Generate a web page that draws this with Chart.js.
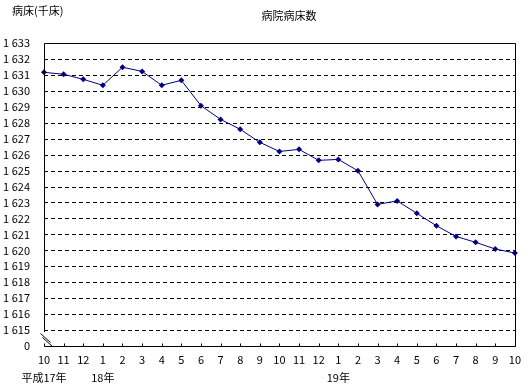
<!DOCTYPE html>
<html>
<head>
<meta charset="utf-8">
<script src="https://cdn.jsdelivr.net/npm/chart.js@4"></script>
<style>
  html, body { margin: 0; padding: 0; background: #fff; }
  #wrap { width: 528px; height: 387px; }
</style>
</head>
<body>
<div id="wrap"><canvas id="chart" width="528" height="387"></canvas></div>
<script>
// months from 平成17年10月 to 平成19年10月
var months = ['10', '11', '12', '1', '2', '3', '4', '5', '6', '7', '8', '9',
              '10', '11', '12', '1', '2', '3', '4', '5', '6', '7', '8', '9', '10'];
var yearLabels = { 0: '平成17年', 3: '18年', 15: '19年' };
var beds = [1631.16, 1631.04, 1630.72, 1630.35, 1631.48, 1631.22, 1630.35, 1630.66,
            1629.07, 1628.21, 1627.59, 1626.77, 1626.2, 1626.33, 1625.64, 1625.7,
            1624.99, 1622.88, 1623.1, 1622.32, 1621.54, 1620.87, 1620.5, 1620.08, 1619.83];
var yMin = 1614;   // shown as "0" (axis break)
var yMax = 1633;

var FONT = "'Noto Sans CJK JP', 'DejaVu Sans', sans-serif";

// dashed grid, frame, axis break, inner ticks and texts
var decorations = {
    id: 'decorations',
    beforeDatasetsDraw: function(chart) {
        var c = chart.ctx;
        var a = chart.chartArea;
        var y = chart.scales.y;
        c.save();
        c.strokeStyle = '#000';
        c.lineWidth = 1;
        c.setLineDash([4, 3]);
        c.beginPath();
        y.ticks.forEach(function(t) {
            if (t.value === yMin || t.value === yMax) return;
            var py = Math.round(y.getPixelForValue(t.value)) + 0.5;
            c.moveTo(a.left, py);
            c.lineTo(a.right, py);
        });
        c.stroke();
        c.restore();
    },
    afterDraw: function(chart) {
        var c = chart.ctx;
        var a = chart.chartArea;
        var y = chart.scales.y;
        var x = chart.scales.x;
        c.save();
        c.strokeStyle = '#000';
        c.lineWidth = 1;
        var breakTop = Math.round(y.getPixelForValue(1615)) + 2;
        var L = Math.round(a.left) + 0.5, R = Math.round(a.right) + 0.5;
        var T = Math.round(a.top) + 0.5, B = Math.round(a.bottom) + 0.5;
        c.beginPath();
        c.moveTo(L, breakTop);
        c.lineTo(L, T);
        c.lineTo(R, T);
        c.lineTo(R, B);
        c.lineTo(L, B);
        c.stroke();
        // break marks
        c.beginPath();
        c.moveTo(L - 4, B - 13);
        c.lineTo(L + 6, B - 4);
        c.moveTo(L - 2, B - 9);
        c.lineTo(L + 8, B);
        c.stroke();
        // small ticks inside the bottom axis
        c.beginPath();
        for (var i = 0; i < months.length; i++) {
            var px = Math.round(x.getPixelForTick(i)) + 0.5;
            c.moveTo(px, B);
            c.lineTo(px, B - 3);
        }
        c.stroke();
        // texts
        c.fillStyle = '#000';
        c.font = '11px ' + FONT;
        c.textBaseline = 'middle';
        c.textAlign = 'left';
        c.fillText('病床(千床)', 12, 11);
        c.textAlign = 'center';
        c.fillText('病院病床数', 289, 16);
        Object.keys(yearLabels).forEach(function(k) {
            c.fillText(yearLabels[k], x.getPixelForTick(+k), a.bottom + 32);
        });
        c.restore();
    }
};

new Chart(document.getElementById('chart'), {
    type: 'line',
    data: {
        labels: months,
        datasets: [{
            data: beds,
            borderColor: '#000080',
            backgroundColor: '#000080',
            borderWidth: 1,
            pointStyle: 'rectRot',
            pointRadius: 3,
            pointBorderWidth: 0,
            tension: 0,
            fill: false
        }]
    },
    plugins: [decorations],
    options: {
        responsive: false,
        animation: false,
        layout: { padding: { top: 43, right: 10, left: 0, bottom: 0 } },
        plugins: {
            legend: { display: false },
            title: { display: false },
            tooltip: { enabled: false }
        },
        scales: {
            x: {
                offset: false,
                border: { display: false },
                grid: { display: false, drawTicks: false, tickLength: 0 },
                afterFit: function(s) { s.height = 41; },
                ticks: {
                    autoSkip: false,
                    maxRotation: 0,
                    minRotation: 0,
                    padding: 7,
                    color: '#000',
                    font: { family: FONT, size: 11 }
                }
            },
            y: {
                min: yMin,
                max: yMax,
                afterFit: function(s) { s.width = 44; },
                grid: { display: false, drawTicks: false, tickLength: 0 },
                border: { display: false },
                ticks: {
                    stepSize: 1,
                    autoSkip: false,
                    padding: 14,
                    color: '#000',
                    font: { family: FONT, size: 11 },
                    callback: function(v) {
                        if (v === yMin) return '0';
                        var s = String(v);
                        return s.charAt(0) + ' ' + s.slice(1);
                    }
                }
            }
        }
    }
});
</script>
</body>
</html>
